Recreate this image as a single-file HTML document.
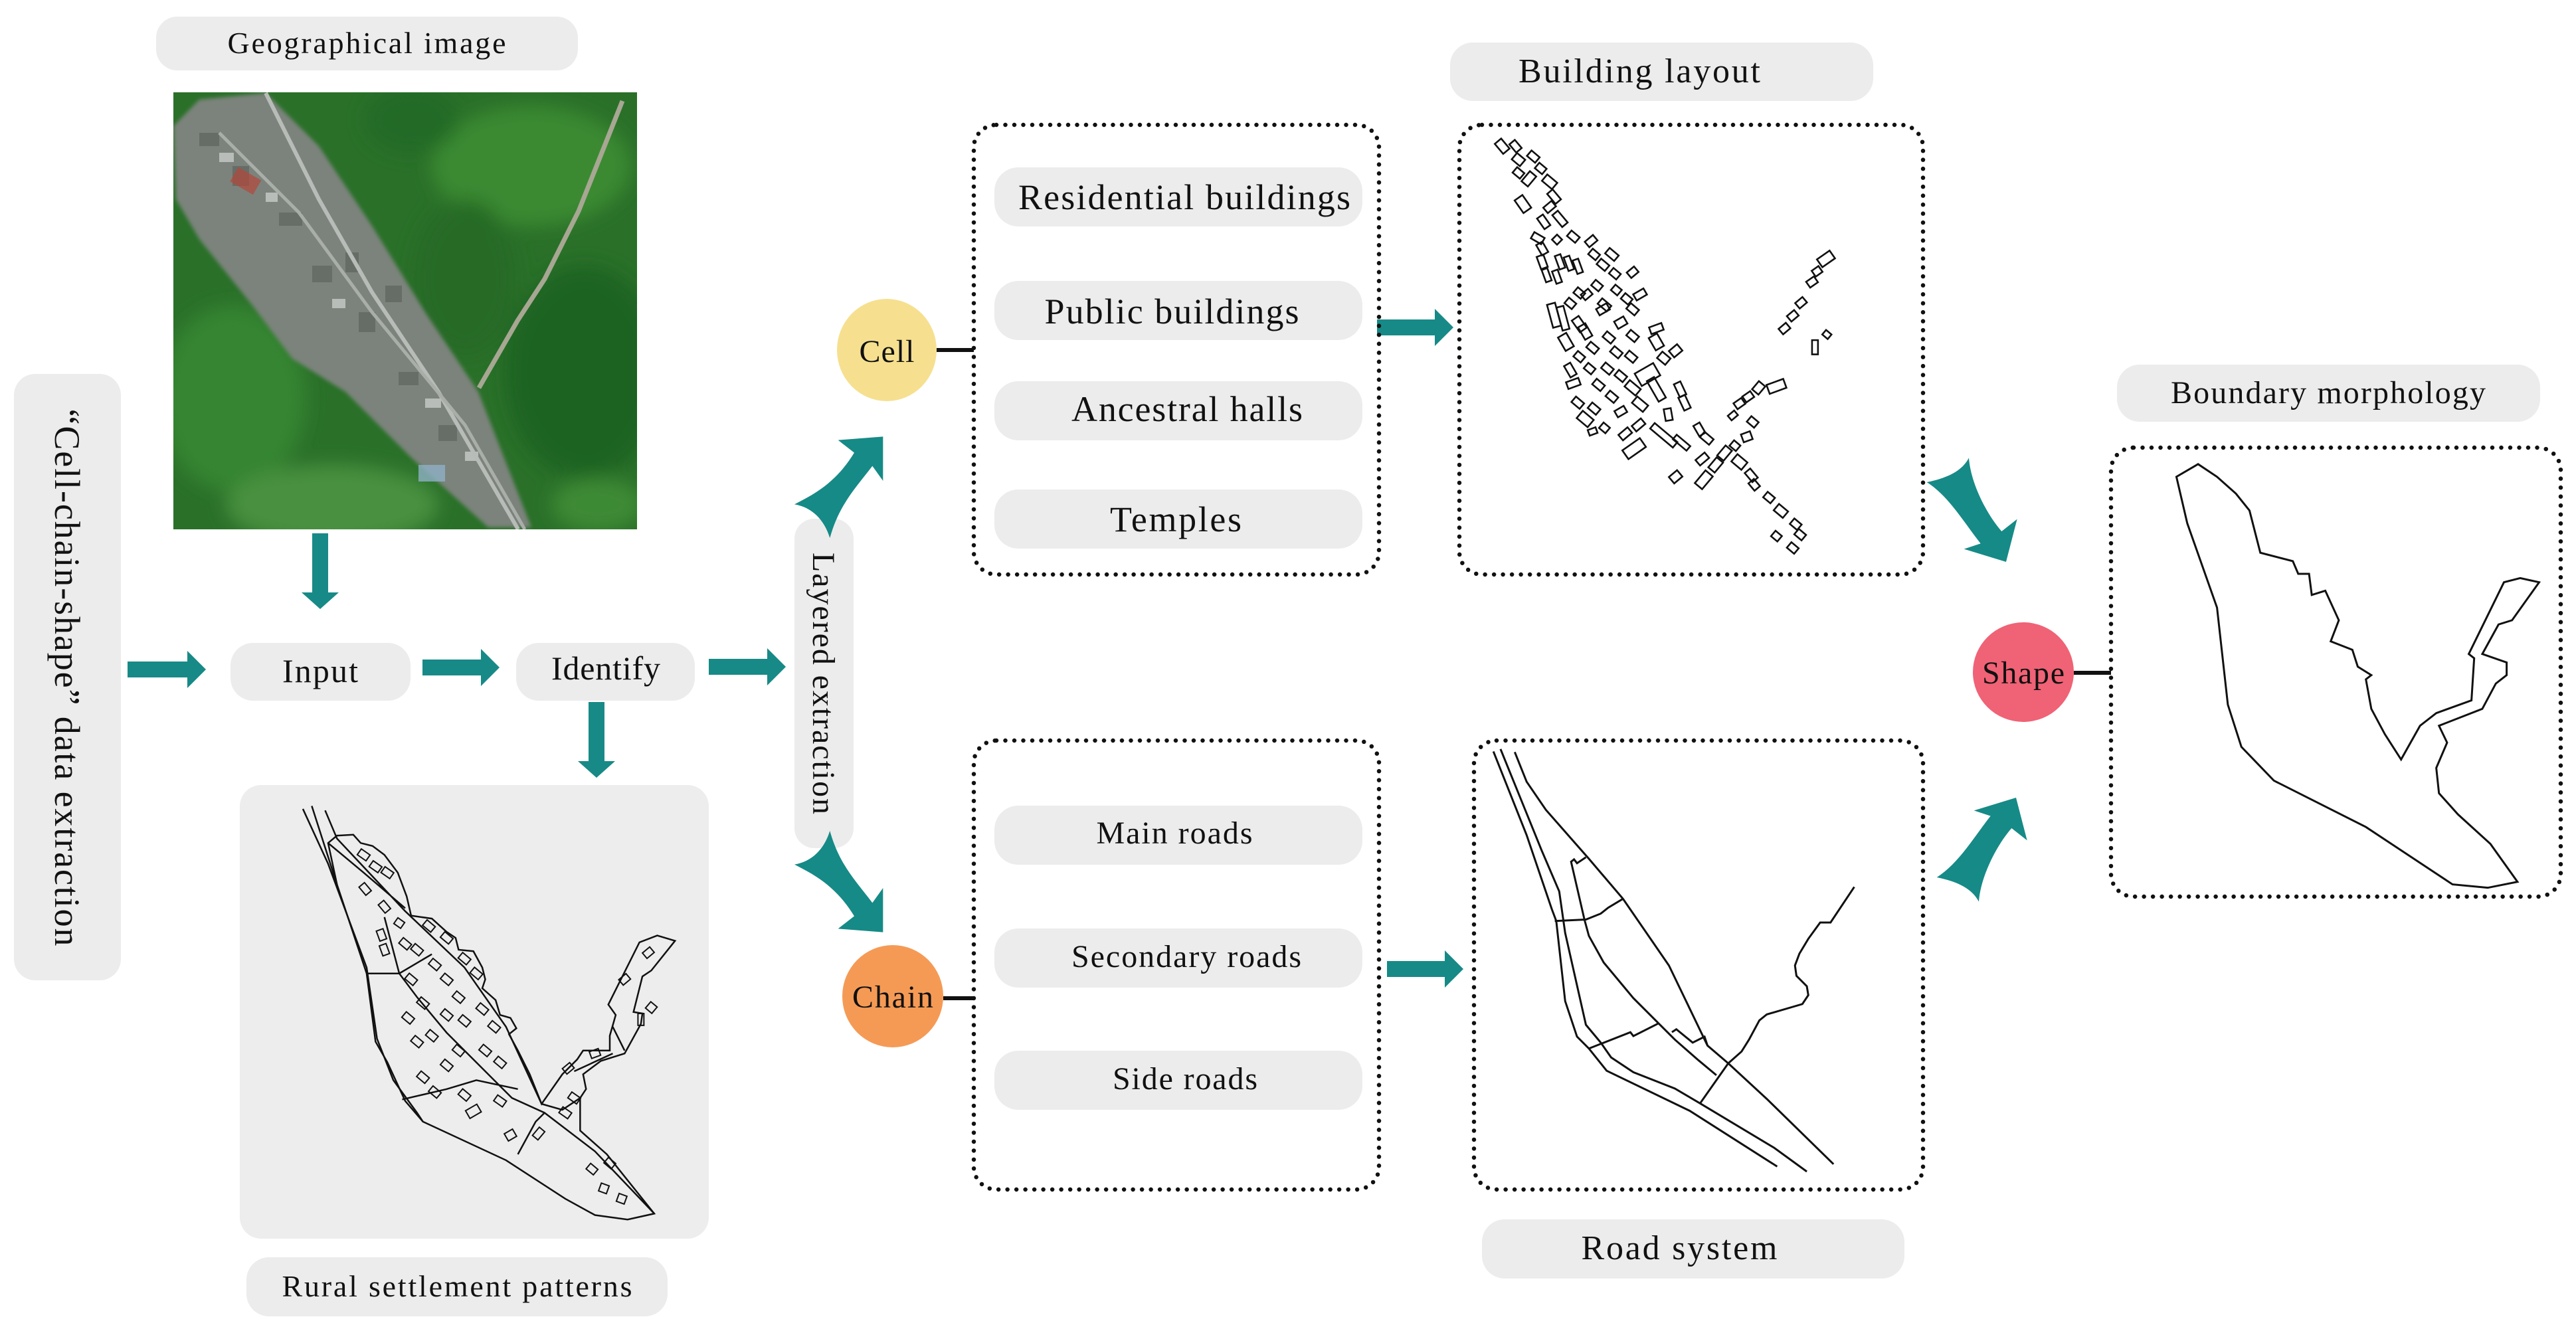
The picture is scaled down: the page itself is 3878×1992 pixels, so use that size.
<!DOCTYPE html>
<html><head><meta charset="utf-8"><style>
html,body{margin:0;padding:0;background:#fff;}
svg{display:block;}
text{font-family:"Liberation Serif",serif;fill:#111;}
#bld rect{stroke-width:2.6px;}
</style></head><body>
<svg width="3878" height="1992" viewBox="0 0 3878 1992" xmlns="http://www.w3.org/2000/svg">
<defs>
<filter id="bl" x="-20%" y="-20%" width="140%" height="140%"><feGaussianBlur stdDeviation="14"/></filter>
<filter id="bl2"><feGaussianBlur stdDeviation="3"/></filter>
<clipPath id="satclip"><rect x="261" y="139" width="698" height="658"/></clipPath>
</defs>

<rect x="235" y="25" width="635" height="81" rx="32" fill="#ececec"/>
<text x="552" y="80" font-size="46" text-anchor="middle" textLength="419" lengthAdjust="spacing">Geographical image</text>

<g clip-path="url(#satclip)">
<rect x="261" y="139" width="698" height="658" fill="#2a7029"/>
<g filter="url(#bl)">
<ellipse cx="800" cy="250" rx="150" ry="90" fill="#3a8a33"/>
<ellipse cx="880" cy="560" rx="120" ry="160" fill="#1f6423"/>
<ellipse cx="350" cy="600" rx="110" ry="140" fill="#358530"/>
<ellipse cx="500" cy="760" rx="160" ry="60" fill="#4a9140"/>
<ellipse cx="700" cy="420" rx="80" ry="120" fill="#266a26"/>
<ellipse cx="620" cy="180" rx="70" ry="50" fill="#246a27"/>
<ellipse cx="900" cy="760" rx="70" ry="40" fill="#3d8a36"/>
</g>
<polygon filter="url(#bl2)" points="261,190 300,150 400,140 480,220 560,340 640,470 720,590 800,794 735,794 620,690 520,590 440,540 380,460 300,360 265,300" fill="#7c837c"/>
<g fill="#5e645e" opacity="0.7">
<rect x="300" y="200" width="30" height="20"/><rect x="350" y="250" width="25" height="30"/><rect x="420" y="320" width="35" height="20"/>
<rect x="470" y="400" width="30" height="25"/><rect x="540" y="470" width="25" height="30"/><rect x="600" y="560" width="30" height="20"/>
<rect x="660" y="640" width="28" height="24"/><rect x="520" y="380" width="20" height="30"/><rect x="580" y="430" width="25" height="25"/>
</g>
<g fill="#c8ccc8" opacity="0.8">
<rect x="330" y="230" width="22" height="14"/><rect x="400" y="290" width="18" height="14"/><rect x="500" y="450" width="20" height="14"/>
<rect x="640" y="600" width="24" height="14"/><rect x="700" y="680" width="20" height="14"/>
</g>
<polyline points="400,140 480,300 560,440 660,590 780,797" fill="none" stroke="#b8bcb8" stroke-width="6"/>
<polyline points="330,200 450,320 560,470 700,640 790,797" fill="none" stroke="#a9aea9" stroke-width="5"/>
<polyline points="721,584 779,483 820,420 871,318 937,152" fill="none" stroke="#a7a793" stroke-width="7"/>
<rect x="350" y="260" width="40" height="25" fill="#b5473a" opacity="0.7" transform="rotate(30 370 272)"/>
<rect x="630" y="700" width="40" height="25" fill="#8fb0c6" opacity="0.8"/>
</g>

<rect x="21" y="563" width="161" height="913" rx="32" fill="#ececec"/>
<text x="101" y="1020" font-size="54" text-anchor="middle" textLength="809" lengthAdjust="spacing" transform="rotate(90 101 1020) translate(0 18)">“Cell-chain-shape” data extraction</text>

<g fill="#178a87">
<path d="M192,996 H282 V980 L310,1008 L282,1036 V1020 H192 Z"/>
<path d="M636,993 H724 V977 L752,1005 L724,1033 V1017 H636 Z"/>
<path d="M1067,992 H1155 V976 L1183,1004 L1155,1032 V1016 H1067 Z"/>
<path d="M470,803 H494 V892 H510 L482,917 L454,892 H470 Z"/>
<path d="M886,1057 H910 V1146 H926 L898,1171 L870,1146 H886 Z"/>
<path d="M2073,481 H2160 V465 L2188,493 L2160,521 V505 H2073 Z"/>
<path d="M2088,1447 H2175 V1431 L2203,1459 L2175,1487 V1471 H2088 Z"/>
</g>

<rect x="347" y="968" width="271" height="87" rx="34" fill="#ececec"/>
<text x="482" y="1027" font-size="50" text-anchor="middle" textLength="114" lengthAdjust="spacing">Input</text>
<rect x="777" y="968" width="269" height="87" rx="34" fill="#ececec"/>
<text x="912" y="1023" font-size="50" text-anchor="middle" textLength="164" lengthAdjust="spacing">Identify</text>

<rect x="361" y="1182" width="706" height="683" rx="32" fill="#ededed"/>
<g transform="translate(360 1180) scale(0.4464)" fill="none" stroke="#111">
<path vector-effect="non-scaling-stroke" stroke-width="2.5" d="M300,200 L330,175 L385,172 L410,200 L450,210 L490,240 L535,300 L565,380 L580,445 L650,455 L700,500 L730,520 L740,560 L790,565 L820,620 L830,660 L820,690 L865,730 L880,780 L915,790 L935,825 L910,845 L940,900 L980,980 L1020,1080 L1090,980 L1140,930 L1160,900 L1250,900 L1250,850 L1270,780 L1245,745 L1350,535 L1410,512 L1470,530 L1390,630 L1360,650 L1330,770 L1360,775 L1355,810 L1300,910 L1220,935 L1160,980 L1170,1030 L1150,1060 L1150,1170 L1240,1250 L1400,1450 L1310,1470 L1200,1455 L1100,1400 L900,1270 L620,1140 L560,1070 L500,940 L460,870 L430,640 L330,340 Z"/>
<path vector-effect="non-scaling-stroke" stroke-width="2.5" d="M215,85 L300,270 L430,620 L465,860 L520,1000 L600,1110 L620,1140 M245,75 L330,340 M290,90 L330,185 L560,430 L760,620 L900,820 L1020,1080 M300,200 L420,300 L560,420 M490,450 L540,640 L600,720 L700,840 L800,940 L920,1060 L1030,1110 L1200,1240 L1400,1450 M430,640 L540,640 L650,575 M550,1065 L700,1030 L800,1000 L940,1030 M940,1250 L1000,1140 L1030,1110 M1020,1080 L1090,1100 L1150,1060 M1260,820 L1300,900 M1130,970 L1260,910"/>
<g stroke-width="2">
<rect vector-effect="non-scaling-stroke" x="-18" y="-12" width="36" height="24" transform="translate(420,240) rotate(35)"/>
<rect vector-effect="non-scaling-stroke" x="-18" y="-12" width="36" height="24" transform="translate(460,280) rotate(35)"/>
<rect vector-effect="non-scaling-stroke" x="-18" y="-12" width="36" height="24" transform="translate(500,300) rotate(35)"/>
<rect vector-effect="non-scaling-stroke" x="-18" y="-12" width="36" height="24" transform="translate(425,355) rotate(50)"/>
<rect vector-effect="non-scaling-stroke" x="-18" y="-12" width="36" height="24" transform="translate(490,415) rotate(50)"/>
<rect vector-effect="non-scaling-stroke" x="-14" y="-12" width="28" height="24" transform="translate(540,470) rotate(35)"/>
<rect vector-effect="non-scaling-stroke" x="-18" y="-12" width="36" height="24" transform="translate(480,510) rotate(70)"/>
<rect vector-effect="non-scaling-stroke" x="-18" y="-12" width="36" height="24" transform="translate(490,560) rotate(70)"/>
<rect vector-effect="non-scaling-stroke" x="-18" y="-12" width="36" height="24" transform="translate(560,540) rotate(40)"/>
<rect vector-effect="non-scaling-stroke" x="-18" y="-12" width="36" height="24" transform="translate(600,560) rotate(40)"/>
<rect vector-effect="non-scaling-stroke" x="-18" y="-12" width="36" height="24" transform="translate(640,480) rotate(40)"/>
<rect vector-effect="non-scaling-stroke" x="-18" y="-12" width="36" height="24" transform="translate(700,520) rotate(40)"/>
<rect vector-effect="non-scaling-stroke" x="-18" y="-12" width="36" height="24" transform="translate(760,590) rotate(40)"/>
<rect vector-effect="non-scaling-stroke" x="-18" y="-12" width="36" height="24" transform="translate(800,640) rotate(40)"/>
<rect vector-effect="non-scaling-stroke" x="-18" y="-12" width="36" height="24" transform="translate(660,610) rotate(40)"/>
<rect vector-effect="non-scaling-stroke" x="-18" y="-12" width="36" height="24" transform="translate(700,660) rotate(40)"/>
<rect vector-effect="non-scaling-stroke" x="-18" y="-12" width="36" height="24" transform="translate(740,720) rotate(40)"/>
<rect vector-effect="non-scaling-stroke" x="-18" y="-12" width="36" height="24" transform="translate(580,660) rotate(40)"/>
<rect vector-effect="non-scaling-stroke" x="-18" y="-12" width="36" height="24" transform="translate(620,740) rotate(40)"/>
<rect vector-effect="non-scaling-stroke" x="-18" y="-12" width="36" height="24" transform="translate(570,790) rotate(40)"/>
<rect vector-effect="non-scaling-stroke" x="-18" y="-12" width="36" height="24" transform="translate(600,870) rotate(40)"/>
<rect vector-effect="non-scaling-stroke" x="-18" y="-12" width="36" height="24" transform="translate(650,850) rotate(40)"/>
<rect vector-effect="non-scaling-stroke" x="-18" y="-12" width="36" height="24" transform="translate(700,780) rotate(40)"/>
<rect vector-effect="non-scaling-stroke" x="-18" y="-12" width="36" height="24" transform="translate(760,800) rotate(40)"/>
<rect vector-effect="non-scaling-stroke" x="-18" y="-12" width="36" height="24" transform="translate(820,760) rotate(40)"/>
<rect vector-effect="non-scaling-stroke" x="-18" y="-12" width="36" height="24" transform="translate(860,820) rotate(40)"/>
<rect vector-effect="non-scaling-stroke" x="-18" y="-12" width="36" height="24" transform="translate(830,900) rotate(40)"/>
<rect vector-effect="non-scaling-stroke" x="-18" y="-12" width="36" height="24" transform="translate(880,940) rotate(40)"/>
<rect vector-effect="non-scaling-stroke" x="-18" y="-12" width="36" height="24" transform="translate(740,900) rotate(40)"/>
<rect vector-effect="non-scaling-stroke" x="-18" y="-12" width="36" height="24" transform="translate(700,950) rotate(40)"/>
<rect vector-effect="non-scaling-stroke" x="-18" y="-12" width="36" height="24" transform="translate(620,990) rotate(40)"/>
<rect vector-effect="non-scaling-stroke" x="-18" y="-12" width="36" height="24" transform="translate(660,1040) rotate(40)"/>
<rect vector-effect="non-scaling-stroke" x="-18" y="-12" width="36" height="24" transform="translate(760,1050) rotate(40)"/>
<rect vector-effect="non-scaling-stroke" x="-22" y="-15" width="44" height="30" transform="translate(790,1105) rotate(-30)"/>
<rect vector-effect="non-scaling-stroke" x="-18" y="-12" width="36" height="24" transform="translate(880,1070) rotate(35)"/>
<rect vector-effect="non-scaling-stroke" x="-16" y="-14" width="32" height="28" transform="translate(915,1185) rotate(-30)"/>
<rect vector-effect="non-scaling-stroke" x="-18" y="-12" width="36" height="24" transform="translate(1010,1180) rotate(-50)"/>
<rect vector-effect="non-scaling-stroke" x="-18" y="-12" width="36" height="24" transform="translate(1100,1110) rotate(35)"/>
<rect vector-effect="non-scaling-stroke" x="-18" y="-12" width="36" height="24" transform="translate(1130,1060) rotate(35)"/>
<rect vector-effect="non-scaling-stroke" x="-14" y="-14" width="28" height="28" transform="translate(1230,1365) rotate(20)"/>
<rect vector-effect="non-scaling-stroke" x="-14" y="-14" width="28" height="28" transform="translate(1290,1400) rotate(20)"/>
<rect vector-effect="non-scaling-stroke" x="-14" y="-14" width="28" height="28" transform="translate(1390,755) rotate(40)"/>
<rect vector-effect="non-scaling-stroke" x="-10" y="-20" width="20" height="40" transform="translate(1355,795)"/>
<rect vector-effect="non-scaling-stroke" x="-16" y="-12" width="32" height="24" transform="translate(1380,570) rotate(-40)"/>
<rect vector-effect="non-scaling-stroke" x="-16" y="-12" width="32" height="24" transform="translate(1300,660) rotate(-40)"/>
<rect vector-effect="non-scaling-stroke" x="-16" y="-12" width="32" height="24" transform="translate(1200,910) rotate(-20)"/>
<rect vector-effect="non-scaling-stroke" x="-16" y="-12" width="32" height="24" transform="translate(1110,960) rotate(-40)"/>
<rect vector-effect="non-scaling-stroke" x="-16" y="-12" width="32" height="24" transform="translate(1190,1300) rotate(40)"/>
<rect vector-effect="non-scaling-stroke" x="-16" y="-12" width="32" height="24" transform="translate(1250,1280) rotate(40)"/>
</g>
</g>
<rect x="371" y="1893" width="634" height="89" rx="34" fill="#ececec"/>
<text x="688" y="1952" font-size="46" text-anchor="middle" textLength="527" lengthAdjust="spacing">Rural settlement patterns</text>

<rect x="1196" y="781" width="89" height="496" rx="30" fill="#ececec"/>
<text x="1240" y="1029" font-size="48" text-anchor="middle" textLength="394" lengthAdjust="spacing" transform="rotate(90 1240 1029) translate(0 16)">Layered extraction</text>

<g fill="#168a86">
<path transform="translate(1180 620) scale(0.3333)" d="M48,418 C120,380 230,330 318,185 L245,128 L448,112 L448,312 L400,245 C320,350 250,420 208,570 C180,480 120,430 48,418 Z"/>
<path transform="translate(1180 1441) scale(0.3333 -0.3333)" d="M48,418 C120,380 230,330 318,185 L245,128 L448,112 L448,312 L400,245 C320,350 250,420 208,570 C180,480 120,430 48,418 Z"/>
<path transform="translate(2880 660) scale(0.3333)" d="M62,198 C150,180 220,150 252,88 C260,200 330,340 400,420 L470,365 L420,558 L230,500 L305,475 C230,380 160,260 62,198 Z"/>
<path transform="translate(2895 1387) scale(0.3333 -0.3333)" d="M62,198 C150,180 220,150 252,88 C260,200 330,340 400,420 L470,365 L420,558 L230,500 L305,475 C230,380 160,260 62,198 Z"/>
</g>

<ellipse cx="1335" cy="527" rx="75" ry="77" fill="#f6e08f"/>
<text x="1335" y="545" font-size="48" text-anchor="middle" textLength="83" lengthAdjust="spacing">Cell</text>
<line x1="1410" y1="527" x2="1466" y2="527" stroke="#111" stroke-width="6"/>
<ellipse cx="1344" cy="1500" rx="76" ry="77" fill="#f59a55"/>
<text x="1344" y="1517" font-size="48" text-anchor="middle" textLength="122" lengthAdjust="spacing">Chain</text>
<line x1="1420" y1="1503" x2="1466" y2="1503" stroke="#111" stroke-width="6"/>

<g fill="none" stroke="#111" stroke-width="6.5" stroke-linecap="round" stroke-dasharray="0 13.5">
<rect x="1466" y="188" width="610" height="677" rx="34"/>
<rect x="1466" y="1115" width="610" height="676" rx="34"/>
<rect x="2197" y="188" width="698" height="677" rx="34"/>
<rect x="2219" y="1115" width="676" height="676" rx="34"/>
<rect x="3178" y="674" width="677" height="676" rx="34"/>
</g>

<g fill="#ececec">
<rect x="1497" y="252" width="554" height="89" rx="36"/>
<rect x="1497" y="423" width="554" height="89" rx="36"/>
<rect x="1497" y="574" width="554" height="89" rx="36"/>
<rect x="1497" y="737" width="554" height="89" rx="36"/>
<rect x="1497" y="1213" width="554" height="89" rx="36"/>
<rect x="1497" y="1398" width="554" height="89" rx="36"/>
<rect x="1497" y="1582" width="554" height="89" rx="36"/>
</g>
<g font-size="54">
<text x="1783" y="315" text-anchor="middle" textLength="500" lengthAdjust="spacing">Residential buildings</text>
<text x="1764" y="487" text-anchor="middle" textLength="383" lengthAdjust="spacing">Public buildings</text>
<text x="1787" y="634" text-anchor="middle" textLength="348" lengthAdjust="spacing">Ancestral halls</text>
<text x="1770" y="800" text-anchor="middle" textLength="198" lengthAdjust="spacing">Temples</text>
</g>
<g font-size="48">
<text x="1768" y="1270" text-anchor="middle" textLength="235" lengthAdjust="spacing">Main roads</text>
<text x="1786" y="1456" text-anchor="middle" textLength="346" lengthAdjust="spacing">Secondary roads</text>
<text x="1784" y="1640" text-anchor="middle" textLength="218" lengthAdjust="spacing">Side roads</text>
</g>

<rect x="2183" y="64" width="637" height="88" rx="34" fill="#ececec"/>
<text x="2468" y="124" font-size="52" text-anchor="middle" textLength="364" lengthAdjust="spacing">Building layout</text>

<g transform="translate(2190 180) scale(0.4464)" fill="none" stroke="#111">
<g id="bld">
<rect vector-effect="non-scaling-stroke" x="-22" y="-14" width="44" height="28" transform="translate(160,90) rotate(50)"/>
<rect vector-effect="non-scaling-stroke" x="-18" y="-12" width="36" height="24" transform="translate(205,90) rotate(50)"/>
<rect vector-effect="non-scaling-stroke" x="-18" y="-14" width="36" height="28" transform="translate(215,135) rotate(40)"/>
<rect vector-effect="non-scaling-stroke" x="-18" y="-12" width="36" height="24" transform="translate(265,125) rotate(40)"/>
<rect vector-effect="non-scaling-stroke" x="-16" y="-12" width="32" height="24" transform="translate(290,165) rotate(40)"/>
<rect vector-effect="non-scaling-stroke" x="-16" y="-12" width="32" height="24" transform="translate(215,180) rotate(40)"/>
<rect vector-effect="non-scaling-stroke" x="-22" y="-14" width="44" height="28" transform="translate(250,200) rotate(-50)"/>
<rect vector-effect="non-scaling-stroke" x="-22" y="-14" width="44" height="28" transform="translate(320,210) rotate(40)"/>
<rect vector-effect="non-scaling-stroke" x="-26" y="-16" width="52" height="32" transform="translate(230,285) rotate(55)"/>
<rect vector-effect="non-scaling-stroke" x="-22" y="-12" width="44" height="24" transform="translate(335,260) rotate(50)"/>
<rect vector-effect="non-scaling-stroke" x="-18" y="-12" width="36" height="24" transform="translate(320,295) rotate(-40)"/>
<rect vector-effect="non-scaling-stroke" x="-22" y="-12" width="44" height="24" transform="translate(300,345) rotate(55)"/>
<rect vector-effect="non-scaling-stroke" x="-26" y="-12" width="52" height="24" transform="translate(355,335) rotate(50)"/>
<rect vector-effect="non-scaling-stroke" x="-18" y="-12" width="36" height="24" transform="translate(400,395) rotate(40)"/>
<rect vector-effect="non-scaling-stroke" x="-18" y="-12" width="36" height="24" transform="translate(460,410) rotate(-40)"/>
<rect vector-effect="non-scaling-stroke" x="-12" y="-12" width="24" height="24" transform="translate(345,405) rotate(45)"/>
<rect vector-effect="non-scaling-stroke" x="-20" y="-12" width="40" height="24" transform="translate(280,400) rotate(30)"/>
<rect vector-effect="non-scaling-stroke" x="-20" y="-12" width="40" height="24" transform="translate(295,435) rotate(60)"/>
<rect vector-effect="non-scaling-stroke" x="-20" y="-12" width="40" height="24" transform="translate(530,455) rotate(40)"/>
<rect vector-effect="non-scaling-stroke" x="-16" y="-12" width="32" height="24" transform="translate(470,455) rotate(40)"/>
<rect vector-effect="non-scaling-stroke" x="-22" y="-12" width="44" height="24" transform="translate(295,480) rotate(70)"/>
<rect vector-effect="non-scaling-stroke" x="-24" y="-10" width="48" height="20" transform="translate(355,480) rotate(70)"/>
<rect vector-effect="non-scaling-stroke" x="-24" y="-10" width="48" height="20" transform="translate(385,485) rotate(70)"/>
<rect vector-effect="non-scaling-stroke" x="-24" y="-10" width="48" height="20" transform="translate(415,495) rotate(70)"/>
<rect vector-effect="non-scaling-stroke" x="-18" y="-12" width="36" height="24" transform="translate(500,490) rotate(40)"/>
<rect vector-effect="non-scaling-stroke" x="-16" y="-12" width="32" height="24" transform="translate(540,520) rotate(40)"/>
<rect vector-effect="non-scaling-stroke" x="-16" y="-12" width="32" height="24" transform="translate(600,515) rotate(-40)"/>
<rect vector-effect="non-scaling-stroke" x="-22" y="-10" width="44" height="20" transform="translate(310,525) rotate(70)"/>
<rect vector-effect="non-scaling-stroke" x="-22" y="-10" width="44" height="20" transform="translate(345,530) rotate(70)"/>
<rect vector-effect="non-scaling-stroke" x="-16" y="-12" width="32" height="24" transform="translate(480,560) rotate(40)"/>
<rect vector-effect="non-scaling-stroke" x="-14" y="-12" width="28" height="24" transform="translate(545,575) rotate(40)"/>
<rect vector-effect="non-scaling-stroke" x="-20" y="-12" width="40" height="24" transform="translate(625,590) rotate(-30)"/>
<rect vector-effect="non-scaling-stroke" x="-16" y="-12" width="32" height="24" transform="translate(580,605) rotate(40)"/>
<rect vector-effect="non-scaling-stroke" x="-16" y="-12" width="32" height="24" transform="translate(420,585) rotate(40)"/>
<rect vector-effect="non-scaling-stroke" x="-16" y="-12" width="32" height="24" transform="translate(445,590) rotate(-40)"/>
<rect vector-effect="non-scaling-stroke" x="-16" y="-12" width="32" height="24" transform="translate(390,620) rotate(40)"/>
<rect vector-effect="non-scaling-stroke" x="-20" y="-12" width="40" height="24" transform="translate(505,625) rotate(40)"/>
<rect vector-effect="non-scaling-stroke" x="-20" y="-12" width="40" height="24" transform="translate(500,640) rotate(-30)"/>
<rect vector-effect="non-scaling-stroke" x="-40" y="-14" width="80" height="28" transform="translate(335,660) rotate(75)"/>
<rect vector-effect="non-scaling-stroke" x="-40" y="-12" width="80" height="24" transform="translate(365,670) rotate(75)"/>
<rect vector-effect="non-scaling-stroke" x="-24" y="-14" width="48" height="28" transform="translate(420,690) rotate(55)"/>
<rect vector-effect="non-scaling-stroke" x="-18" y="-12" width="36" height="24" transform="translate(600,640) rotate(40)"/>
<rect vector-effect="non-scaling-stroke" x="-18" y="-14" width="36" height="28" transform="translate(560,685) rotate(-30)"/>
<rect vector-effect="non-scaling-stroke" x="-22" y="-12" width="44" height="24" transform="translate(680,705) rotate(-20)"/>
<rect vector-effect="non-scaling-stroke" x="-26" y="-16" width="52" height="32" transform="translate(375,750) rotate(60)"/>
<rect vector-effect="non-scaling-stroke" x="-24" y="-14" width="48" height="28" transform="translate(440,715) rotate(60)"/>
<rect vector-effect="non-scaling-stroke" x="-18" y="-12" width="36" height="24" transform="translate(520,735) rotate(40)"/>
<rect vector-effect="non-scaling-stroke" x="-18" y="-12" width="36" height="24" transform="translate(600,730) rotate(40)"/>
<rect vector-effect="non-scaling-stroke" x="-24" y="-16" width="48" height="32" transform="translate(680,750) rotate(60)"/>
<rect vector-effect="non-scaling-stroke" x="-18" y="-14" width="36" height="28" transform="translate(745,780) rotate(-40)"/>
<rect vector-effect="non-scaling-stroke" x="-16" y="-12" width="32" height="24" transform="translate(420,800) rotate(40)"/>
<rect vector-effect="non-scaling-stroke" x="-18" y="-12" width="36" height="24" transform="translate(465,770) rotate(40)"/>
<rect vector-effect="non-scaling-stroke" x="-18" y="-12" width="36" height="24" transform="translate(545,785) rotate(40)"/>
<rect vector-effect="non-scaling-stroke" x="-18" y="-12" width="36" height="24" transform="translate(595,800) rotate(40)"/>
<rect vector-effect="non-scaling-stroke" x="-18" y="-14" width="36" height="28" transform="translate(705,805) rotate(40)"/>
<rect vector-effect="non-scaling-stroke" x="-22" y="-12" width="44" height="24" transform="translate(390,845) rotate(60)"/>
<rect vector-effect="non-scaling-stroke" x="-16" y="-12" width="32" height="24" transform="translate(455,840) rotate(40)"/>
<rect vector-effect="non-scaling-stroke" x="-18" y="-12" width="36" height="24" transform="translate(515,840) rotate(40)"/>
<rect vector-effect="non-scaling-stroke" x="-18" y="-12" width="36" height="24" transform="translate(560,865) rotate(40)"/>
<rect vector-effect="non-scaling-stroke" x="-36" y="-24" width="72" height="48" transform="translate(650,860) rotate(-30)"/>
<rect vector-effect="non-scaling-stroke" x="-40" y="-14" width="80" height="28" transform="translate(680,910) rotate(60)"/>
<rect vector-effect="non-scaling-stroke" x="-24" y="-12" width="48" height="24" transform="translate(760,910) rotate(65)"/>
<rect vector-effect="non-scaling-stroke" x="-22" y="-12" width="44" height="24" transform="translate(400,890) rotate(-20)"/>
<rect vector-effect="non-scaling-stroke" x="-18" y="-12" width="36" height="24" transform="translate(485,895) rotate(40)"/>
<rect vector-effect="non-scaling-stroke" x="-18" y="-12" width="36" height="24" transform="translate(530,935) rotate(40)"/>
<rect vector-effect="non-scaling-stroke" x="-24" y="-14" width="48" height="28" transform="translate(600,905) rotate(40)"/>
<rect vector-effect="non-scaling-stroke" x="-24" y="-12" width="48" height="24" transform="translate(775,955) rotate(65)"/>
<rect vector-effect="non-scaling-stroke" x="-18" y="-12" width="36" height="24" transform="translate(415,955) rotate(40)"/>
<rect vector-effect="non-scaling-stroke" x="-18" y="-12" width="36" height="24" transform="translate(470,975) rotate(40)"/>
<rect vector-effect="non-scaling-stroke" x="-18" y="-12" width="36" height="24" transform="translate(560,985) rotate(-30)"/>
<rect vector-effect="non-scaling-stroke" x="-24" y="-14" width="48" height="28" transform="translate(625,960) rotate(40)"/>
<rect vector-effect="non-scaling-stroke" x="-20" y="-12" width="40" height="24" transform="translate(720,995) rotate(80)"/>
<rect vector-effect="non-scaling-stroke" x="-24" y="-16" width="48" height="32" transform="translate(440,1010) rotate(40)"/>
<rect vector-effect="non-scaling-stroke" x="-14" y="-12" width="28" height="24" transform="translate(505,1040) rotate(40)"/>
<rect vector-effect="non-scaling-stroke" x="-14" y="-10" width="28" height="20" transform="translate(465,1052) rotate(-20)"/>
<rect vector-effect="non-scaling-stroke" x="-20" y="-12" width="40" height="24" transform="translate(575,1060) rotate(-40)"/>
<rect vector-effect="non-scaling-stroke" x="-20" y="-12" width="40" height="24" transform="translate(620,1030) rotate(-40)"/>
<rect vector-effect="non-scaling-stroke" x="-50" y="-12" width="100" height="24" transform="translate(705,1065) rotate(40)"/>
<rect vector-effect="non-scaling-stroke" x="-30" y="-10" width="60" height="20" transform="translate(765,1090) rotate(40)"/>
<rect vector-effect="non-scaling-stroke" x="-20" y="-12" width="40" height="24" transform="translate(825,1045) rotate(60)"/>
<rect vector-effect="non-scaling-stroke" x="-20" y="-12" width="40" height="24" transform="translate(850,1075) rotate(40)"/>
<rect vector-effect="non-scaling-stroke" x="-36" y="-18" width="72" height="36" transform="translate(605,1110) rotate(-35)"/>
<rect vector-effect="non-scaling-stroke" x="-20" y="-12" width="40" height="24" transform="translate(835,1145) rotate(-40)"/>
<rect vector-effect="non-scaling-stroke" x="-22" y="-14" width="44" height="28" transform="translate(880,1165) rotate(-50)"/>
<rect vector-effect="non-scaling-stroke" x="-22" y="-14" width="44" height="28" transform="translate(910,1125) rotate(-50)"/>
<rect vector-effect="non-scaling-stroke" x="-14" y="-12" width="28" height="24" transform="translate(945,1100) rotate(40)"/>
<rect vector-effect="non-scaling-stroke" x="-16" y="-14" width="32" height="28" transform="translate(985,1070) rotate(-20)"/>
<rect vector-effect="non-scaling-stroke" x="-16" y="-12" width="32" height="24" transform="translate(1005,1020) rotate(40)"/>
<rect vector-effect="non-scaling-stroke" x="-22" y="-16" width="44" height="32" transform="translate(960,1155) rotate(40)"/>
<rect vector-effect="non-scaling-stroke" x="-28" y="-16" width="56" height="32" transform="translate(840,1215) rotate(-50)"/>
<rect vector-effect="non-scaling-stroke" x="-20" y="-12" width="40" height="24" transform="translate(1000,1200) rotate(50)"/>
<rect vector-effect="non-scaling-stroke" x="-16" y="-12" width="32" height="24" transform="translate(1010,1232) rotate(50)"/>
<rect vector-effect="non-scaling-stroke" x="-18" y="-14" width="36" height="28" transform="translate(745,1205) rotate(-40)"/>
<rect vector-effect="non-scaling-stroke" x="-16" y="-12" width="32" height="24" transform="translate(1060,1275) rotate(40)"/>
<rect vector-effect="non-scaling-stroke" x="-20" y="-14" width="40" height="28" transform="translate(1100,1320) rotate(40)"/>
<rect vector-effect="non-scaling-stroke" x="-16" y="-12" width="32" height="24" transform="translate(1150,1365) rotate(40)"/>
<rect vector-effect="non-scaling-stroke" x="-16" y="-12" width="32" height="24" transform="translate(1165,1400) rotate(40)"/>
<rect vector-effect="non-scaling-stroke" x="-14" y="-12" width="28" height="24" transform="translate(1085,1405) rotate(40)"/>
<rect vector-effect="non-scaling-stroke" x="-16" y="-12" width="32" height="24" transform="translate(1140,1445) rotate(40)"/>
<rect vector-effect="non-scaling-stroke" x="-26" y="-16" width="52" height="32" transform="translate(1252,470) rotate(-35)"/>
<rect vector-effect="non-scaling-stroke" x="-14" y="-12" width="28" height="24" transform="translate(1222,512) rotate(-35)"/>
<rect vector-effect="non-scaling-stroke" x="-16" y="-12" width="32" height="24" transform="translate(1205,548) rotate(-35)"/>
<rect vector-effect="non-scaling-stroke" x="-16" y="-12" width="32" height="24" transform="translate(1168,618) rotate(-40)"/>
<rect vector-effect="non-scaling-stroke" x="-16" y="-12" width="32" height="24" transform="translate(1140,662) rotate(-40)"/>
<rect vector-effect="non-scaling-stroke" x="-16" y="-12" width="32" height="24" transform="translate(1112,705) rotate(-40)"/>
<rect vector-effect="non-scaling-stroke" x="-12" y="-10" width="24" height="20" transform="translate(1255,725) rotate(40)"/>
<rect vector-effect="non-scaling-stroke" x="-10" y="-24" width="20" height="48" transform="translate(1215,768)"/>
<rect vector-effect="non-scaling-stroke" x="-30" y="-16" width="60" height="32" transform="translate(1085,900) rotate(-20)"/>
<rect vector-effect="non-scaling-stroke" x="-18" y="-14" width="36" height="28" transform="translate(1025,905) rotate(-50)"/>
<rect vector-effect="non-scaling-stroke" x="-16" y="-12" width="32" height="24" transform="translate(990,935) rotate(-35)"/>
<rect vector-effect="non-scaling-stroke" x="-16" y="-12" width="32" height="24" transform="translate(960,958) rotate(-35)"/>
<rect vector-effect="non-scaling-stroke" x="-14" y="-10" width="28" height="20" transform="translate(938,998) rotate(-40)"/>
</g>
</g>

<g transform="translate(2200 1110) scale(0.4464)" fill="none" stroke="#111">
<path vector-effect="non-scaling-stroke" stroke-width="3" d="M108,48 L220,330 L305,580 L320,620 L350,890 L390,1010 L430,1050 L490,1125 L770,1260 L1065,1448 M132,40 L270,380 L330,520 L350,660 L420,970 L470,1030 L505,1080 L580,1130 L720,1185 L805,1235 L1055,1385 L1165,1465 M180,50 L220,150 L285,245 L430,410 L545,545 L700,770 L830,1040 L900,1100 L1030,1220 L1255,1440 M420,405 L390,425 L380,412 L370,420 L415,615 L430,670 L480,760 L580,880 L665,965 L720,1020 L800,1090 L860,1140 M315,620 L420,615 L470,595 L495,575 L545,545 M430,1050 L570,995 L580,1008 L665,965 M710,995 L725,985 L780,1030 L820,1010 L830,1040 M805,1235 L900,1100 L945,1060 L970,1020 L1005,955 L1030,935 L1150,900 L1170,870 L1165,840 L1130,805 L1125,770 L1140,730 L1170,680 L1210,625 L1245,625 L1325,505"/>
</g>
<rect x="2231" y="1836" width="636" height="89" rx="34" fill="#ececec"/>
<text x="2528" y="1896" font-size="52" text-anchor="middle" textLength="295" lengthAdjust="spacing">Road system</text>

<ellipse cx="3046" cy="1012" rx="76" ry="75" fill="#f06275"/>
<text x="3046" y="1029" font-size="48" text-anchor="middle" textLength="124" lengthAdjust="spacing">Shape</text>
<line x1="3122" y1="1013" x2="3178" y2="1013" stroke="#111" stroke-width="6"/>

<rect x="3187" y="549" width="637" height="86" rx="34" fill="#ececec"/>
<text x="3505" y="607" font-size="48" text-anchor="middle" textLength="474" lengthAdjust="spacing">Boundary morphology</text>
<g transform="translate(2600 0) scale(0.815 1.2706)" fill="none" stroke="#111">
<path vector-effect="non-scaling-stroke" stroke-width="3" d="M830,565 L870,550 L905,565 L940,585 L965,605 L985,655 L1045,665 L1055,680 L1075,680 L1080,705 L1105,700 L1130,735 L1115,760 L1155,770 L1165,790 L1190,800 L1180,805 L1190,840 L1215,870 L1245,900 L1280,860 L1310,845 L1375,830 L1380,780 L1370,775 L1435,690 L1465,685 L1500,690 L1450,735 L1425,740 L1395,775 L1440,785 L1440,800 L1420,810 L1395,840 L1315,860 L1330,880 L1310,910 L1315,940 L1350,965 L1410,1000 L1460,1045 L1405,1052 L1340,1048 L1180,980 L1010,925 L950,885 L925,835 L905,720 L850,620 Z"/>
</g>
</svg>
</body></html>
